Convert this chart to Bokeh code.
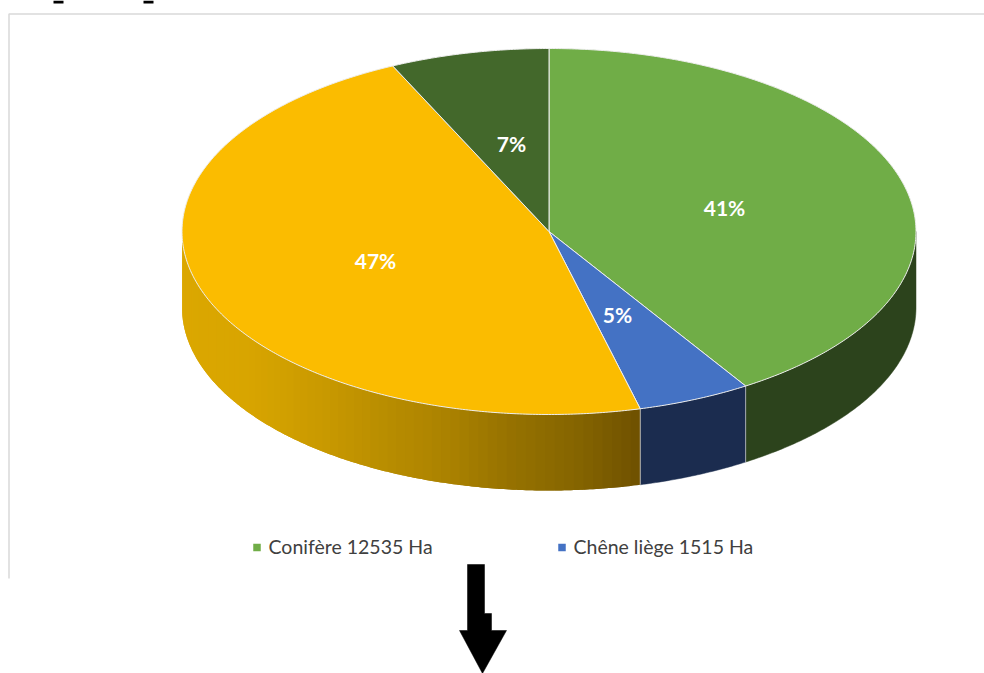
import math
from bokeh.plotting import figure
from bokeh.models import Range1d
from bokeh.core.properties import value
from bokeh.embed import file_html
from bokeh.resources import INLINE

shares = [41, 5, 47, 7]
share_labels = ["41%", "5%", "47%", "7%"]
top_colors = ["#70AD47", "#4472C4", "#FBBC00", "#43682B"]
wall_colors = ["#2C431C", "#1B2C4F", None, "#2C431C"]
legend_labels = ["Conifère 12535 Ha", "Chêne liège 1515 Ha"]
legend_colors = ["#70AD47", "#4472C4"]

CX, CY, RX, RY, DEPTH = 548.5, 231, 367, 183, 76
FONT = "Lato"

p = figure(width=984, height=673, output_backend="svg", toolbar_location=None,
           x_range=Range1d(0, 984), y_range=Range1d(673, 0), min_border=0)
p.axis.visible = False
p.grid.visible = False
p.outline_line_color = None
p.background_fill_color = "white"


def pt(theta, dy=0):
    r = math.radians(theta)
    return CX + RX * math.sin(r), CY - RY * math.cos(r) + dy


def arc(a, b, dy=0):
    n = max(2, int(abs(b - a) * 2))
    return [pt(a + (b - a) * i / n, dy) for i in range(n + 1)]


WALL_STOPS = [(182, (0xDB, 0xA7, 0x00)), (247, (0xD8, 0xA5, 0x00)), (313, (0xCB, 0x9B, 0x00)),
              (380, (0xBA, 0x8E, 0x00)), (447, (0xAB, 0x82, 0x00)), (513, (0x95, 0x71, 0x00)),
              (580, (0x84, 0x64, 0x00)), (641, (0x6E, 0x50, 0x00))]


def yellow_shade(theta):
    x = pt(theta)[0]
    for (a, ca), (b, cb) in zip(WALL_STOPS, WALL_STOPS[1:]):
        if x <= b:
            t = max(0.0, (x - a) / (b - a))
            return "#%02x%02x%02x" % tuple(round(u + (v - u) * t) for u, v in zip(ca, cb))
    return "#6e5000"


# frame of the chart area
p.line([8.5, 8.5, 984], [578, 13.5, 13.5], line_color="#D9D9D9", line_width=1.5)

# the cropped descenders of the line above the frame
p.quad(left=[53, 143], right=[63, 153], top=[0, 0], bottom=[3, 3],
       fill_color="black", line_color=None)

angles = []
start = 0.0
for s in shares:
    angles.append((start, start + s * 3.6))
    start += s * 3.6

# walls
for (a, b), wall in zip(angles, wall_colors):
    lo, hi = max(a, 90), min(b, 270)
    if lo >= hi:
        continue
    if wall is not None:
        shape = arc(lo, hi) + arc(hi, lo, DEPTH)
        p.patch([q[0] for q in shape], [q[1] for q in shape],
                fill_color=wall, line_color=wall, line_width=0.5)
    else:
        th = lo
        while th < hi:
            nx = min(th + 1.5, hi)
            end = min(nx + 1.5, hi)
            shape = arc(th, end) + arc(end, th, DEPTH)
            p.patch([q[0] for q in shape], [q[1] for q in shape],
                    fill_color=yellow_shade((th + nx) / 2), line_color=None)
            th = nx

# wall separators
for b in [angles[0][1], angles[1][1]]:
    x0, y0 = pt(b)
    x1, y1 = pt(b, DEPTH)
    p.line([x0, x1], [y0, y1], line_color="#C9C9C9", line_width=1, line_alpha=0.8)

# top faces
for (a, b), col in zip(angles, top_colors):
    shape = [(CX, CY)] + arc(a, b)
    p.patch([q[0] for q in shape], [q[1] for q in shape],
            fill_color=col, line_color="#EDEDED", line_width=1)

# share labels
p.text(x=[724, 617, 375, 511], y=[207, 314, 260, 143], text=share_labels,
       text_color="white", text_font=value(FONT), text_font_style="bold",
       text_font_size="21px", text_align="center", text_baseline="middle")

# legend
p.scatter(x=[256.5, 561.5], y=[547, 547], marker="square", size=7.5,
          fill_color=legend_colors, line_color=None)
p.text(x=[268, 573], y=[546, 546], text=legend_labels, text_color="#404040",
       text_font=value(FONT), text_font_size="19.5px", text_align="left", text_baseline="middle")

# arrow
p.patch([467, 484, 484, 491, 491, 506, 482, 459, 467],
        [564, 564, 613, 613, 630, 630, 673, 630, 630],
        fill_color="black", line_color="black", line_width=0.5)

open("out.html", "w").write(file_html(p, INLINE))
